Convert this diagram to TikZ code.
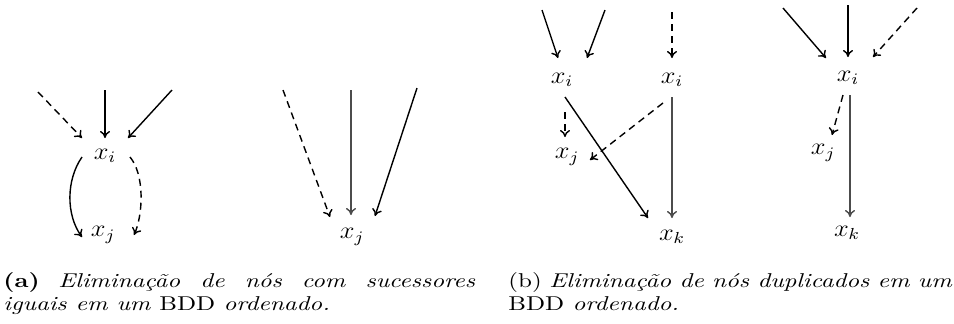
\documentclass[tikz,border=0pt]{standalone}
\usepackage{graphicx}
\usetikzlibrary{arrows.meta}
\newcommand\mylab[1]{\scalebox{1.1}[1]{$#1$}}
\newcommand\mycap[2]{\scalebox{1.25}[1]{\parbox[t]{#1}{\fontsize{10pt}{11.5pt}\selectfont #2}}}
\begin{document}
\begin{tikzpicture}[x=0.5pt,y=-0.5pt,
  lbl/.style={inner sep=0pt, font=\large},
  edge/.style={-{To[length=3.5pt,width=5pt]}, line width=0.7pt},
  dedge/.style={edge, dash pattern=on 3.5pt off 2.5pt},
  gedge/.style={edge, draw=black!70},
  captext/.style={anchor=base west, inner sep=0pt}]
\useasboundingbox (0,0) rectangle (954,323);

% ---- panel (a), left graph
\node[lbl] (ai) at (105,156) {\mylab{x_i}};
\node[lbl] (aj) at (103,235) {\mylab{x_j}};
\coordinate (a1) at (38,92);
\coordinate (a2) at (105,90);
\coordinate (a3) at (172,90);
\draw[dedge] (a1) -- ([shift={(-23,-18)}]ai.center);
\draw[edge] (a2) -- ([shift={(0,-18)}]ai.center);
\draw[edge] (a3) -- ([shift={(23,-18)}]ai.center);
\draw[edge] ([shift={(-23,1)}]ai.center) .. controls (66,180) and (66,215) .. ([shift={(-21,2)}]aj.center);
\draw[dedge] ([shift={(25,1)}]ai.center) .. controls (145,175) and (143,215) .. ([shift={(31,0)}]aj.center);

% ---- panel (a), right graph
\node[lbl] (bj) at (352,237) {\mylab{x_j}};
\coordinate (b1) at (283,90);
\coordinate (b2) at (351,90);
\coordinate (b3) at (417,88);
\draw[dedge] (b1) -- ([shift={(-22,-20)}]bj.center);
\draw[gedge] (b2) -- ([shift={(-1,-22)}]bj.center);
\draw[edge] (b3) -- ([shift={(23,-21)}]bj.center);

% ---- panel (b), left graph
\node[lbl] (ci) at (562,80) {\mylab{x_i}};
\node[lbl] (di) at (672,80) {\mylab{x_i}};
\node[lbl] (cj) at (567,157) {\mylab{x_j}};
\node[lbl] (ck) at (672,237) {\mylab{x_k}};
\coordinate (c1) at (542,10);
\coordinate (c2) at (605,10);
\coordinate (d1) at (672,12);
\draw[edge] (c1) -- ([shift={(-4,-22)}]ci.center);
\draw[edge] (c2) -- ([shift={(25,-22)}]ci.center);
\draw[dedge] (d1) -- ([shift={(0,-22)}]di.center);
\draw[dedge] ([shift={(3,32)}]ci.center) -- ([shift={(-2,-20)}]cj.center);
\draw[edge] ([shift={(3,17)}]ci.center) -- ([shift={(-24,-19)}]ck.center);
\draw[dedge] ([shift={(-9,23)}]di.center) -- ([shift={(23,3)}]cj.center);
\draw[gedge] ([shift={(0,17)}]di.center) -- ([shift={(0,-19)}]ck.center);

% ---- panel (b), right graph
\node[lbl] (ei) at (848,78) {\mylab{x_i}};
\node[lbl] (ej) at (823,153) {\mylab{x_j}};
\node[lbl] (ek) at (847,233) {\mylab{x_k}};
\coordinate (e1) at (783,8);
\coordinate (e2) at (848,5);
\coordinate (e3) at (917,8);
\draw[edge] (e1) -- ([shift={(-22,-20)}]ei.center);
\draw[edge] (e2) -- ([shift={(0,-21)}]ei.center);
\draw[dedge] (e3) -- ([shift={(25,-21)}]ei.center);
\draw[dedge] ([shift={(-5,17)}]ei.center) -- ([shift={(9,-18)}]ej.center);
\draw[gedge] ([shift={(2,17)}]ei.center) -- ([shift={(3,-16)}]ek.center);

% ---- captions
\node[captext] (capa) at (3,287)
  {\mycap{188.8pt}{\textbf{(a)} \textit{Eliminação de nós com sucessores}\linebreak \textit{iguais em um} BDD \textit{ordenado.}}};
\node[captext] (capb) at (508,287)
  {\mycap{177.6pt}{(b) \textit{Eliminação de nós duplicados em um}\linebreak BDD \textit{ordenado.}}};
\end{tikzpicture}
\end{document}
